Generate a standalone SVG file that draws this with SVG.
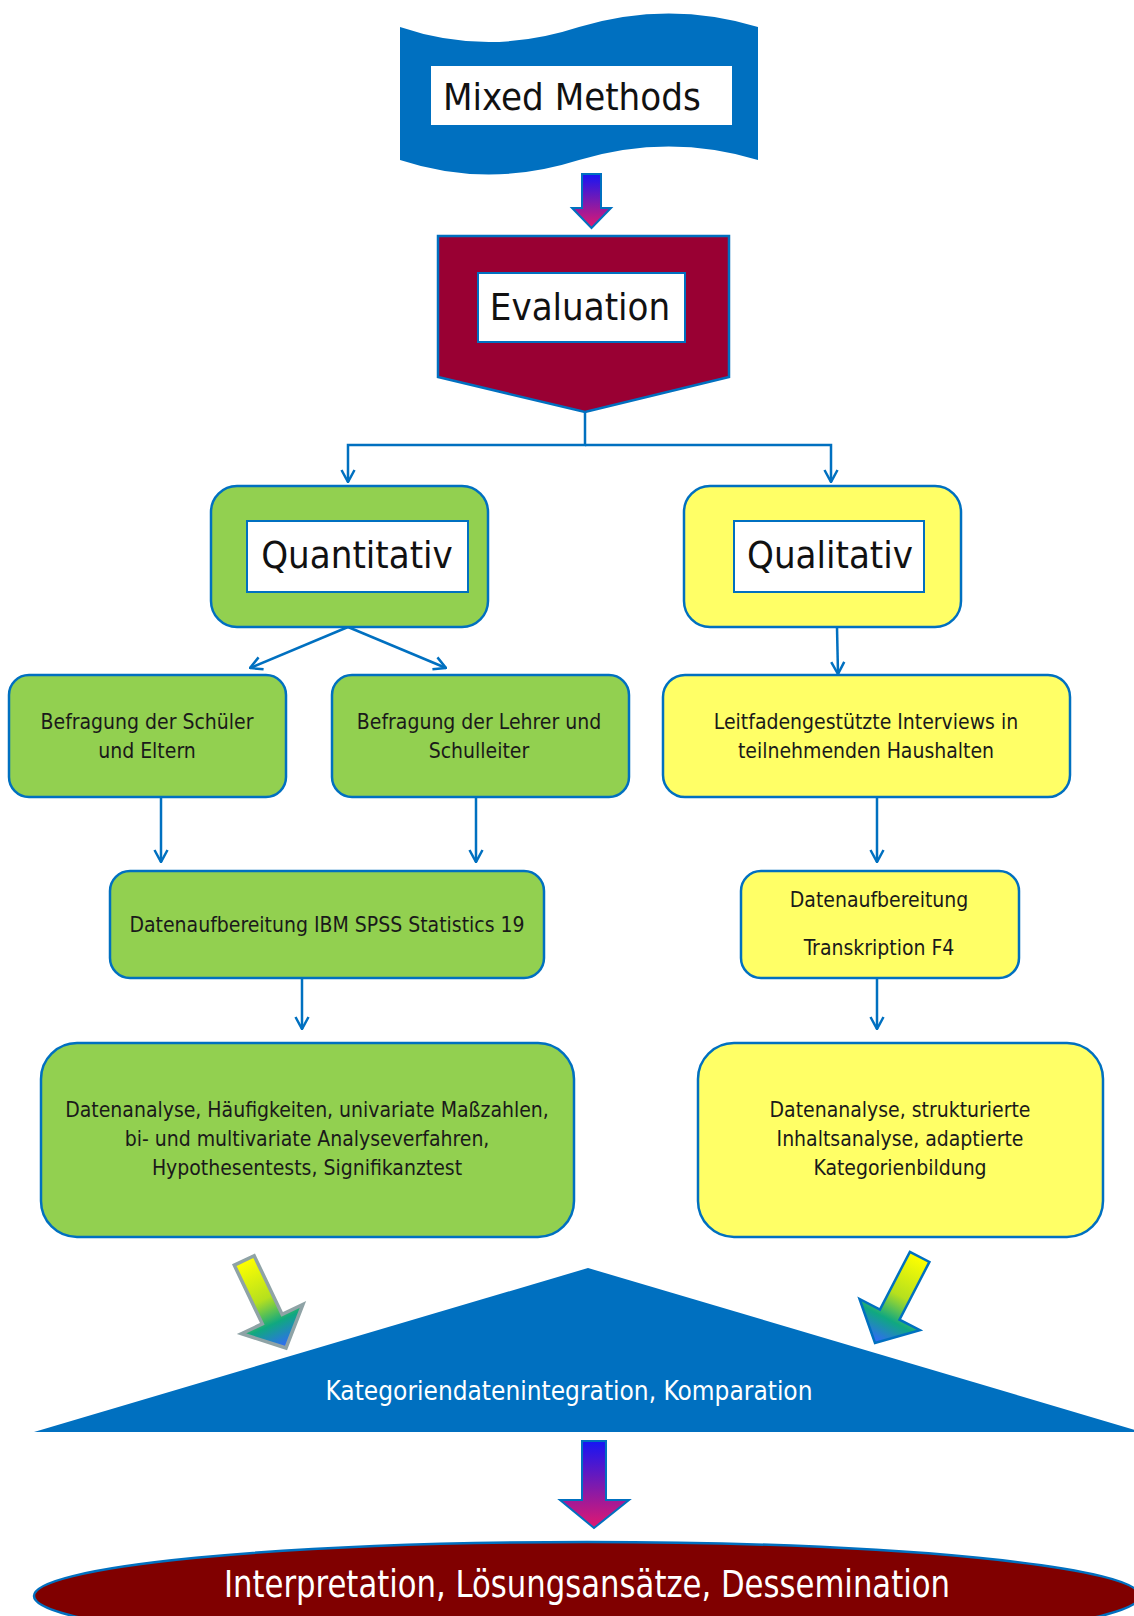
<svg xmlns="http://www.w3.org/2000/svg" width="1134" height="1616" viewBox="0 0 1134 1616">
<defs>
<style>
text{font-family:"DejaVu Sans Condensed","DejaVu Sans",sans-serif;}
.big{font-size:38px;fill:#111;}
.t{font-size:21px;fill:#1a1a1a;text-anchor:middle;}
.wt{fill:#fff;text-anchor:middle;}
.conn{fill:none;stroke:#0070C0;stroke-width:2.5;}
.green{fill:#92D050;stroke:#0070C0;stroke-width:2.5;}
.yellow{fill:#FFFF66;stroke:#0070C0;stroke-width:2.5;}
.inner{fill:#fff;stroke:#0070C0;stroke-width:2;}
</style>
<marker id="ah" viewBox="0 0 14 16" refX="13" refY="8" markerWidth="14" markerHeight="16" orient="auto" markerUnits="userSpaceOnUse">
<path d="M1,1.5 L13,8 L1,14.5" fill="none" stroke="#0070C0" stroke-width="2.5"/>
</marker>
<linearGradient id="bm" x1="0" y1="0" x2="0" y2="1">
<stop offset="0" stop-color="#1515F5"/>
<stop offset="0.5" stop-color="#7A1AB0"/>
<stop offset="1" stop-color="#E3186E"/>
</linearGradient>
<linearGradient id="yg" x1="0" y1="0" x2="0" y2="1">
<stop offset="0" stop-color="#FFFF00"/>
<stop offset="0.45" stop-color="#B5E01E"/>
<stop offset="0.72" stop-color="#10A880"/>
<stop offset="1" stop-color="#3366FF"/>
</linearGradient>
</defs>

<g id="mixed-methods">
<path d="M400,27 Q488,57 579,27 Q669,0 758,27 L758,160 Q669,133 579,160 Q488,189 400,160 Z" fill="#0070C0"/>
<rect class="inner" x="430" y="65" width="303" height="61"/>
<text class="big" x="443" y="110">Mixed Methods</text>
</g>

<g id="arrow-top">
<path d="M582,174 H601 V208 H611 L591.5,228 L572,208 H582 Z" fill="url(#bm)" stroke="#0070C0" stroke-width="2"/>
</g>

<g id="evaluation">
<polygon points="438,236 729,236 729,377 585,412 438,377" fill="#990033" stroke="#0070C0" stroke-width="2.5"/>
<rect class="inner" x="478" y="273" width="207" height="69"/>
<text class="big" x="580" y="320" text-anchor="middle">Evaluation</text>
</g>

<g id="connectors">
<path class="conn" d="M585,412 V445 H348 V482" marker-end="url(#ah)"/>
<path class="conn" d="M585,445 H831 V482" marker-end="url(#ah)"/>
<path class="conn" d="M348,627 L250,668" marker-end="url(#ah)"/>
<path class="conn" d="M348,627 L446,668" marker-end="url(#ah)"/>
<path class="conn" d="M837,627 L838,674" marker-end="url(#ah)"/>
<path class="conn" d="M161,797 V862" marker-end="url(#ah)"/>
<path class="conn" d="M476,797 V862" marker-end="url(#ah)"/>
<path class="conn" d="M877,797 V862" marker-end="url(#ah)"/>
<path class="conn" d="M302,978 V1029" marker-end="url(#ah)"/>
<path class="conn" d="M877,978 V1029" marker-end="url(#ah)"/>
</g>

<g id="quantitativ">
<rect class="green" x="211" y="486" width="277" height="141" rx="26"/>
<rect class="inner" x="247" y="521" width="221" height="71"/>
<text class="big" x="357" y="568" text-anchor="middle">Quantitativ</text>
</g>

<g id="qualitativ">
<rect class="yellow" x="684" y="486" width="277" height="141" rx="26"/>
<rect class="inner" x="734" y="521" width="190" height="71"/>
<text class="big" x="830" y="568" text-anchor="middle">Qualitativ</text>
</g>

<g id="befragung-schueler">
<rect class="green" x="9" y="675" width="277" height="122" rx="20"/>
<text class="t" x="147" y="729">Befragung der Schüler</text>
<text class="t" x="147" y="758">und Eltern</text>
</g>

<g id="befragung-lehrer">
<rect class="green" x="332" y="675" width="297" height="122" rx="20"/>
<text class="t" x="479" y="729">Befragung der Lehrer und</text>
<text class="t" x="479" y="758">Schulleiter</text>
</g>

<g id="leitfaden">
<rect class="yellow" x="663" y="675" width="407" height="122" rx="22"/>
<text class="t" x="866" y="729">Leitfadengestützte Interviews in</text>
<text class="t" x="866" y="758">teilnehmenden Haushalten</text>
</g>

<g id="spss">
<rect class="green" x="110" y="871" width="434" height="107" rx="20"/>
<text class="t" x="327" y="932">Datenaufbereitung IBM SPSS Statistics 19</text>
</g>

<g id="transkription">
<rect class="yellow" x="741" y="871" width="278" height="107" rx="20"/>
<text class="t" x="879" y="907">Datenaufbereitung</text>
<text class="t" x="879" y="955">Transkription  F4</text>
</g>

<g id="analyse-quant">
<rect class="green" x="41" y="1043" width="533" height="194" rx="36"/>
<text class="t" x="307" y="1117" font-size="20.6">Datenanalyse, Häufigkeiten, univariate Maßzahlen,</text>
<text class="t" x="307" y="1146" font-size="20.6">bi- und multivariate Analyseverfahren,</text>
<text class="t" x="307" y="1175" font-size="20.6">Hypothesentests, Signifikanztest</text>
</g>

<g id="analyse-qual">
<rect class="yellow" x="698" y="1043" width="405" height="194" rx="36"/>
<text class="t" x="900" y="1117">Datenanalyse, strukturierte</text>
<text class="t" x="900" y="1146">Inhaltsanalyse, adaptierte</text>
<text class="t" x="900" y="1175">Kategorienbildung</text>
</g>

<g id="arrow-left">
<polygon transform="translate(286,1348) rotate(-25.5)" points="-11,-97 11,-97 11,-32 34,-32 0,0 -34,-32 -11,-32" fill="url(#yg)" stroke="#8FA3A6" stroke-width="3.5" stroke-linejoin="miter"/>
</g>
<g id="arrow-right">
<polygon transform="translate(875,1343) rotate(27.4)" points="-11,-97 11,-97 11,-32 34,-32 0,0 -34,-32 -11,-32" fill="url(#yg)" stroke="#0070C0" stroke-width="2.5"/>
</g>

<g id="integration">
<polygon points="588,1268 34,1432 1142,1432" fill="#0070C0"/>
<text class="wt" x="569" y="1400" font-size="26" textLength="487" lengthAdjust="spacingAndGlyphs">Kategoriendatenintegration,  Komparation</text>
</g>

<g id="arrow-bottom">
<path d="M582,1441 H606 V1500 H629 L594,1528 L560,1500 H582 Z" fill="url(#bm)" stroke="#0070C0" stroke-width="2"/>
</g>

<g id="interpretation">
<ellipse cx="587" cy="1596" rx="553" ry="54" fill="#800000" stroke="#0070C0" stroke-width="2.5"/>
<text class="wt" x="587" y="1597" font-size="37" textLength="726" lengthAdjust="spacingAndGlyphs">Interpretation, Lösungsansätze, Dessemination</text>
</g>
</svg>
